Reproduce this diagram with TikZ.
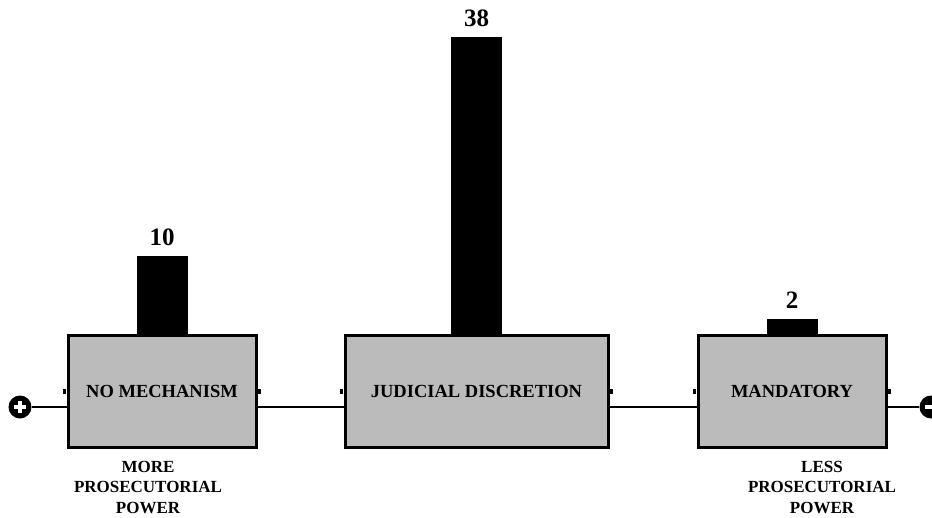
\documentclass[tikz,border=0pt]{standalone}
\usepackage{fontspec}
\setmainfont{Liberation Serif}
\begin{document}
\begin{tikzpicture}[x=1pt,y=-1pt,
  catbox/.style={draw=black,line width=3pt,fill=boxgray,minimum height=112pt,
    inner sep=0pt,font=\fontsize{18.5}{20}\selectfont\bfseries},
  countbar/.style={fill=black,draw=none,minimum width=51pt,inner sep=0pt,anchor=south},
  countlabel/.style={font=\fontsize{25}{28}\selectfont\bfseries,anchor=base,inner sep=0pt},
  powerlabel/.style={font=\fontsize{17}{20.5}\selectfont\bfseries,align=center,inner sep=0pt},
  axisline/.style={line width=2.3pt},
  endmark/.style={circle,fill=black,minimum size=23pt,inner sep=0pt},
  notch/.style={fill=black,minimum width=2.5pt,minimum height=5pt,inner sep=0pt}]
\definecolor{boxgray}{HTML}{BBBBBB}
\useasboundingbox (0,0) rectangle (932,517);

% category boxes
\node[catbox,minimum width=188pt] (b1) at (162,391) {NO MECHANISM};
\node[catbox,minimum width=263pt] (b2) at (476.5,391) {JUDICIAL DISCRETION};
\node[catbox,minimum width=188pt] (b3) at (792,391) {MANDATORY};

% small notches on the box sides
\foreach \b in {b1,b2,b3}{
  \node[notch,anchor=east] at ([xshift=-0.5pt]\b.west) {};
  \node[notch,anchor=west] at ([xshift=0.5pt]\b.east) {};
}

% count bars (7.8pt per case), resting on the box tops
\node[countbar,minimum height=78pt] (c1) at ([yshift=-1pt]b1.north) {};
\node[countbar,minimum height=297pt] (c2) at ([yshift=-1pt]b2.north) {};
\node[countbar,minimum height=15pt] (c3) at ([yshift=-1pt]b3.north) {};
\node[countlabel] (n1) at ([yshift=11pt]c1.north) {10};
\node[countlabel] (n2) at ([yshift=11pt]c2.north) {38};
\node[countlabel] (n3) at ([yshift=11pt]c3.north) {2};

% scale ends: plus and minus discs
\node[endmark] (plus) at (20,407) {};
\node[endmark] (minus) at (931,407) {};
\fill[white] ([xshift=-6pt,yshift=-1.6pt]plus.center) rectangle ([xshift=6pt,yshift=1.6pt]plus.center);
\fill[white] ([xshift=-1.6pt,yshift=-6pt]plus.center) rectangle ([xshift=1.6pt,yshift=6pt]plus.center);
\fill[white] ([xshift=-6pt,yshift=-1.6pt]minus.center) rectangle ([xshift=6pt,yshift=1.6pt]minus.center);

% axis line between boxes
\draw[axisline] (plus.east) -- (b1.west |- plus);
\draw[axisline] (b1.east |- plus) -- (b2.west |- plus);
\draw[axisline] (b2.east |- plus) -- (b3.west |- plus);
\draw[axisline] (b3.east |- plus) -- (minus.west);

% end descriptions
\node[powerlabel] (more) at (148,487) {MORE\\PROSECUTORIAL\\POWER};
\node[powerlabel] (less) at (822,487) {LESS\\PROSECUTORIAL\\POWER};
\end{tikzpicture}
\end{document}
